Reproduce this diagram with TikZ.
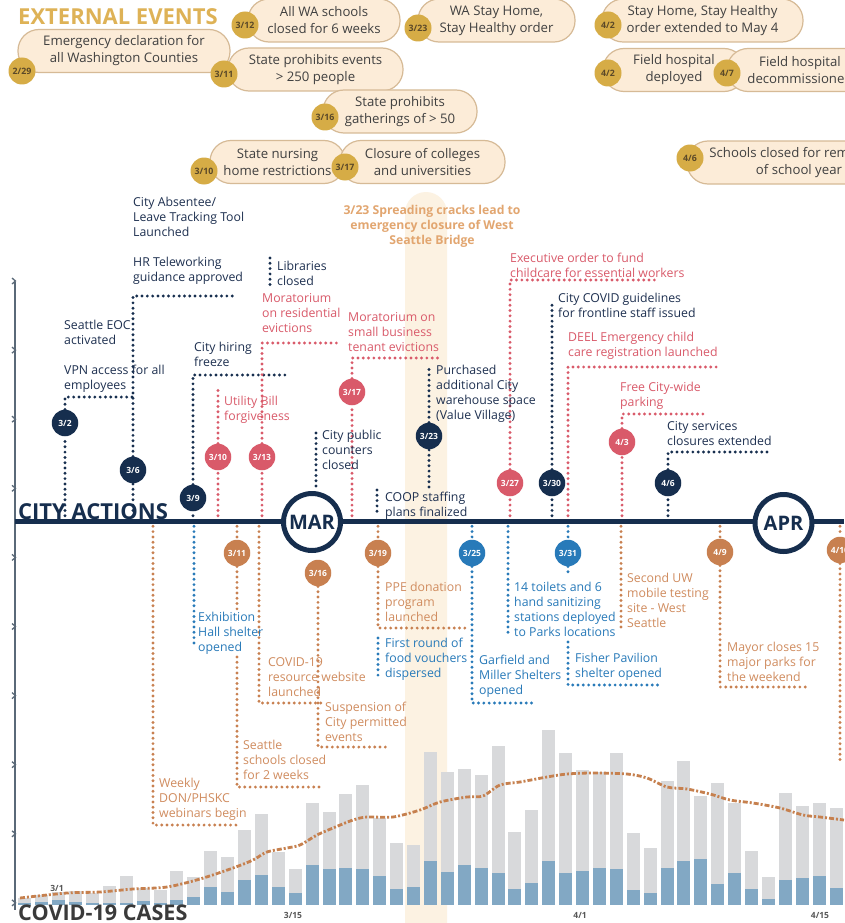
\documentclass[tikz,border=0pt]{standalone}
\usepackage{fontspec}
\setmainfont{Open Sans}
\definecolor{navy}{RGB}{22,46,78}
\definecolor{navytext}{RGB}{30,48,80}
\definecolor{pinkc}{RGB}{217,90,106}
\definecolor{orangec}{RGB}{200,128,80}
\definecolor{orangetext}{RGB}{208,140,95}
\definecolor{bluec}{RGB}{40,122,185}
\definecolor{gold}{RGB}{214,172,70}
\definecolor{goldtitle}{RGB}{222,178,86}
\definecolor{goldtext}{RGB}{90,72,40}
\definecolor{pillfill}{RGB}{252,236,216}
\definecolor{pillborder}{RGB}{214,186,150}
\definecolor{bandc}{RGB}{252,242,226}
\definecolor{bridgetext}{RGB}{226,166,112}
\definecolor{bargray}{RGB}{216,217,219}
\definecolor{barblue}{RGB}{130,168,196}
\definecolor{darkgray}{RGB}{58,58,58}
\definecolor{axisgray}{RGB}{90,105,120}
\definecolor{textgray}{RGB}{64,64,64}
\definecolor{curvec}{RGB}{198,128,78}
\pgfdeclarelayer{back}
\pgfdeclarelayer{mid}
\pgfsetlayers{back,mid,main}
\begin{document}
\begin{tikzpicture}[x=1pt,y=-1pt,
  every node/.style={inner sep=0pt},
  lbl/.style={anchor=north west, align=left, font=\fontsize{12.3}{15}\selectfont},
  pill/.style={draw=pillborder, fill=pillfill, line width=1.2pt, rounded corners=21pt,
    minimum height=43pt, align=center, font=\fontsize{13.2}{17}\selectfont, text=textgray},
  gdate/.style={circle, fill=gold, minimum size=27pt, font=\fontsize{8.8}{8.8}\bfseries\selectfont, text=goldtext},
  cdate/.style={circle, minimum size=26.5pt, text=white, font=\fontsize{8.5}{8.5}\bfseries\selectfont},
  month/.style={circle, draw=navy, line width=5pt, fill=white, minimum size=57pt,
    font=\fontsize{20}{20}\bfseries\selectfont, text=navy},
  dl/.style={line width=3.2pt, dash pattern=on 0pt off 5.3pt, line cap=round},
  axlbl/.style={font=\fontsize{8.5}{8.5}\bfseries\selectfont, text=darkgray!85}
]
\useasboundingbox (0,0) rectangle (844,923);
\begin{pgfonlayer}{back}
  \fill[white] (0,0) rectangle (844,923);
  \fill[bandc, rounded corners=21pt] (405,192) rectangle (447,960);
\end{pgfonlayer}

% ---------------- External events ----------------
\node[anchor=base west, font=\fontsize{22}{22}\bfseries\selectfont, text=goldtitle] (t1) at (18,25) {EXTERNAL EVENTS};
\node[pill, minimum width=212pt] (p1) at (124,51) {Emergency declaration for\\all Washington Counties};
\node[gdate] (g1) at (22,71) {2/29};
\node[pill, minimum width=152pt] (p2) at (324,20.5) {All WA schools\\closed for 6 weeks};
\node[gdate] (g2) at (245,25) {3/12};
\node[pill, minimum width=175pt] (p3) at (315.5,69.5) {State prohibits events\\> 250 people};
\node[gdate] (g3) at (224,74) {3/11};
\node[pill, minimum width=154pt] (p4) at (400,111.5) {State prohibits\\gatherings of > 50};
\node[gdate] (g4) at (325,117) {3/16};
\node[pill, minimum width=135pt] (p5) at (277.5,162) {State nursing\\home restrictions};
\node[gdate] (g5) at (204,171) {3/10};
\node[pill, minimum width=165pt] (p6) at (422.5,162) {Closure of colleges\\and universities};
\node[gdate] (g6) at (345,167) {3/17};
\node[pill, minimum width=157pt] (p7) at (496.5,20.5) {WA Stay Home,\\Stay Healthy order};
\node[gdate] (g7) at (418,28) {3/23};
\node[pill, minimum width=201pt] (p8) at (702.5,20.5) {Stay Home, Stay Healthy\\order extended to May 4};
\node[gdate] (g8) at (608,25) {4/2};
\node[pill, minimum width=142pt] (p9) at (674,70) {Field hospital\\deployed};
\node[gdate] (g9) at (608,73) {4/2};
\node[pill, minimum width=146pt] (p10) at (800,70) {Field hospital\\decommissioned};
\node[gdate] (g10) at (727,73) {4/7};
\node[pill, minimum width=224pt] (p11) at (799,162.5) {Schools closed for remainder\\of school year};
\node[gdate] (g11) at (690,158) {4/6};

% ---------------- bridge ----------------
\node[anchor=north, align=center, font=\fontsize{12.2}{15}\bfseries\selectfont, text=bridgetext] (br) at (432,205) {3/23 Spreading cracks lead to\\emergency closure of West\\Seattle Bridge};

% ---------------- City actions ----------------
\node[anchor=base west, font=\fontsize{22}{22}\bfseries\selectfont, text=navy] (t2) at (18,519.5) {CITY ACTIONS};
\node[month] (mar) at (312,522) {MAR};
\node[month] (apr) at (783.5,523) {APR};

% date circles
\node[cdate, fill=navy] (c32) at (65,423) {3/2};
\node[cdate, fill=navy] (c36) at (133,470) {3/6};
\node[cdate, fill=navy] (c39) at (193,498) {3/9};
\node[cdate, fill=navy] (c323) at (429,436) {3/23};
\node[cdate, fill=navy] (c330) at (552,483) {3/30};
\node[cdate, fill=navy] (c46) at (668,483) {4/6};
\node[cdate, fill=pinkc] (c310) at (218,457) {3/10};
\node[cdate, fill=pinkc] (c313) at (262,457) {3/13};
\node[cdate, fill=pinkc] (c317) at (352,392) {3/17};
\node[cdate, fill=pinkc] (c327) at (510,483) {3/27};
\node[cdate, fill=pinkc] (c43) at (622,442) {4/3};
\node[cdate, fill=orangec] (c311) at (237,553) {3/11};
\node[cdate, fill=orangec] (c316) at (318,573) {3/16};
\node[cdate, fill=orangec] (c319) at (378,553) {3/19};
\node[cdate, fill=orangec] (c49) at (720,552) {4/9};
\node[cdate, fill=orangec] (c410) at (840,550) {4/10};
\node[cdate, fill=bluec] (c325) at (472,553) {3/25};
\node[cdate, fill=bluec] (c331) at (568,553) {3/31};

% labels navy
\node[lbl, text=navytext] (a1) at (133,197) {City Absentee/\\Leave Tracking Tool\\Launched};
\node[lbl, text=navytext] (a2) at (133,257) {HR Teleworking\\guidance approved};
\node[lbl, text=navytext] (a3) at (64,320) {Seattle EOC\\activated};
\node[lbl, text=navytext] (a4) at (64,365) {VPN access for all\\employees};
\node[lbl, text=navytext] (a5) at (277,261) {Libraries\\closed};
\node[lbl, text=navytext] (a6) at (194,342) {City hiring\\freeze};
\node[lbl, text=navytext] (a7) at (322,430) {City public\\counters\\closed};
\node[lbl, text=navytext] (a8) at (385,492) {COOP staffing\\plans finalized};
\node[lbl, text=navytext] (a9) at (436,365) {Purchased\\additional City\\warehouse space\\(Value Village)};
\node[lbl, text=navytext] (a10) at (558,293) {City COVID guidelines\\for frontline staff issued};
\node[lbl, text=navytext] (a11) at (667,421) {City services\\closures extended};
% labels pink
\node[lbl, text=pinkc] (b1) at (262,293) {Moratorium\\on residential\\evictions};
\node[lbl, text=pinkc] (b2) at (224,396) {Utility Bill\\forgiveness};
\node[lbl, text=pinkc] (b3) at (348,312) {Moratorium on\\small business\\tenant evictions};
\node[lbl, text=pinkc] (b4) at (510,253) {Executive order to fund\\childcare for essential workers};
\node[lbl, text=pinkc] (b5) at (568,332) {DEEL Emergency child\\care registration launched};
\node[lbl, text=pinkc] (b6) at (620,382) {Free City-wide\\parking};
% labels orange
\node[lbl, text=orangetext] (o1) at (159,778) {Weekly\\DON/PHSKC\\webinars begin};
\node[lbl, text=orangetext] (o2) at (243,740) {Seattle\\schools closed\\for 2 weeks};
\node[lbl, text=orangetext] (o3) at (268,657) {COVID-19\\resource website\\launched};
\node[lbl, text=orangetext] (o4) at (325,702) {Suspension of\\City permitted\\events};
\node[lbl, text=orangetext] (o5) at (385,582) {PPE donation\\program\\launched};
\node[lbl, text=orangetext] (o6) at (627,573) {Second UW\\mobile testing\\site - West\\Seattle};
\node[lbl, text=orangetext] (o7) at (727,642) {Mayor closes 15\\major parks for\\the weekend};
% labels blue
\node[lbl, text=bluec] (u1) at (198,612) {Exhibition\\Hall shelter\\opened};
\node[lbl, text=bluec] (u2) at (385,638) {First round of\\food vouchers\\dispersed};
\node[lbl, text=bluec] (u3) at (479,655) {Garfield and\\Miller Shelters\\opened};
\node[lbl, text=bluec] (u4) at (514,582) {14 toilets and 6\\hand sanitizing\\stations deployed\\to Parks locations};
\node[lbl, text=bluec] (u5) at (575,653) {Fisher Pavilion\\shelter opened};

% timeline anchor points
\foreach \n/\x in {t32/65,t36/133,t39/193,t330/552,t46/668,t310/218,t313/262,t317/352,t327/510,tdeel/568,t43/622,
  tweek/153,t311/237,tcov/259,t319/378,tuw/621,t49/720,t410/840,texh/194,t325/472,ttoi/508,t331/568}
  \coordinate (\n) at (\x,521);

% chart date labels
\node[axlbl] (d1) at (57,888) {3/1};
\node[axlbl] (d2) at (293,915) {3/15};
\node[axlbl] (d3) at (580,915) {4/1};
\node[axlbl] (d4) at (820,915) {4/15};
\node[anchor=base west, font=\fontsize{21.6}{21.6}\bfseries\selectfont, text=darkgray] (t3) at (18,920) {COVID-19 CASES};

\begin{pgfonlayer}{mid}
  % bars
  \foreach \g/\b [count=\i] in {6.7/1.7,10/3.3,13.3/5,14.3/3.3,11.7/2.3,19.3/2.3,29/1.7,16.7/4,15/2.3,34.3/5,
    28.3/8.3,54/18.3,47.7/12.7,75/25,91/30.3,53.3/18.3,35.7/11.7,102.3/40,93.3/35.7,111/36.7,
    120/35.7,86.7/29,61.7/15.7,60/18.3,153.3/44.3,133.3/33.3,135.7/40,130/36.7,159.3/32.3,72.7/15.7,
    95/21.7,175/44.3,151.7/31.7,135/34.3,133.3/36.7,151.7/35.7,71.7/15,56.7/11.7,124.3/36.7,144/44.3,
    109/45.7,121.7/20.7,101.7/32.3,54.3/15.7,28.3/6,111.7/25,99/26.7,102.3/29,96.7/17.3} {
    \fill[bargray] ({18.3+(\i-1)*16.9},905) rectangle ++(13,-\g);
    \fill[barblue] ({18.3+(\i-1)*16.9},905) rectangle ++(13,-\b);
  }
  \draw[curvec, line width=2.8pt, dash pattern=on 5pt off 2pt on 2pt off 2pt]
    plot[smooth, tension=0.5] coordinates {(20,898) (67,893) (100,892) (133,889) (167,887) (200,879) (233,868)
    (253,860) (267,852) (287,848) (300,845) (317,835) (333,828) (353,820) (367,817) (393,817) (420,810)
    (440,802) (467,797) (483,796) (500,785) (520,782) (547,777) (567,774) (593,773) (627,774) (647,778)
    (667,787) (687,789) (710,794) (730,800) (753,803) (780,808) (803,815) (820,817) (844,820)};

  % axis
  \draw[axisgray, line width=2pt] (15,282) -- (15,910);
  \foreach \k in {0,...,9}
    \draw[axisgray, line width=1.3pt] (12,{281+69.1*\k-3}) -- (15.5,{281+69.1*\k}) -- (12,{281+69.1*\k+3});

  % navy connectors
  \draw[dl,navy] (t32) -- (c32) -- (65,397) -- (133,397);
  \draw[dl,navy] (t36) -- (c36) -- (133,296) -- (235,296);
  \draw[dl,navy] (t39) -- (c39) -- (193,375) -- (285,375);
  \draw[dl,navy] (270,258) -- (270,286);
  \draw[dl,navy] (316,433) -- (316,490);
  \draw[dl,navy] (377,490) -- (377,515);
  \draw[dl,navy] (429,487) -- (c323) -- (429,368);
  \draw[dl,navy] (t330) -- (c330) -- (552,302);
  \draw[dl,navy] (t46) -- (c46) -- (668,452) -- (772,452);
  % pink connectors
  \draw[dl,pinkc] (t310) -- (c310) -- (218,390);
  \draw[dl,pinkc] (t313) -- (c313) -- (262,343) -- (338,343);
  \draw[dl,pinkc] (t317) -- (c317) -- (352,358) -- (440,358);
  \draw[dl,pinkc] (t327) -- (c327) -- (510,280) -- (657,280);
  \draw[dl,pinkc] (tdeel) -- (568,367) -- (717,367);
  \draw[dl,pinkc] (t43) -- (c43) -- (622,414) -- (703,414);
  % orange connectors
  \draw[dl,orangec] (tweek) -- (153,825) -- (237,825);
  \draw[dl,orangec] (t311) -- (c311) -- (237,610);
  \draw[dl,orangec] (237,657) -- (237,787) -- (320,787);
  \draw[dl,orangec] (tcov) -- (259,703) -- (323,703);
  \draw[dl,orangec] (c316) -- (318,747) -- (387,747);
  \draw[dl,orangec] (t319) -- (c319) -- (378,628) -- (467,628);
  \draw[dl,orangec] (tuw) -- (621,628);
  \draw[dl,orangec] (t49) -- (c49) -- (720,687) -- (808,687);
  \draw[dl,orangec] (t410) -- (c410) -- (840,763);
  % blue connectors
  \draw[dl,bluec] (texh) -- (194,648);
  \draw[dl,bluec] (378,638) -- (378,677);
  \draw[dl,bluec] (t325) -- (c325) -- (472,703) -- (533,703);
  \draw[dl,bluec] (ttoi) -- (508,633);
  \draw[dl,bluec] (t331) -- (c331) -- (568,575);
  \draw[dl,bluec] (568,642) -- (568,685) -- (662,685);

  % main timeline
  \draw[navy, line width=5pt] (15,521) -- (844,521);
\end{pgfonlayer}
\end{tikzpicture}
\end{document}
